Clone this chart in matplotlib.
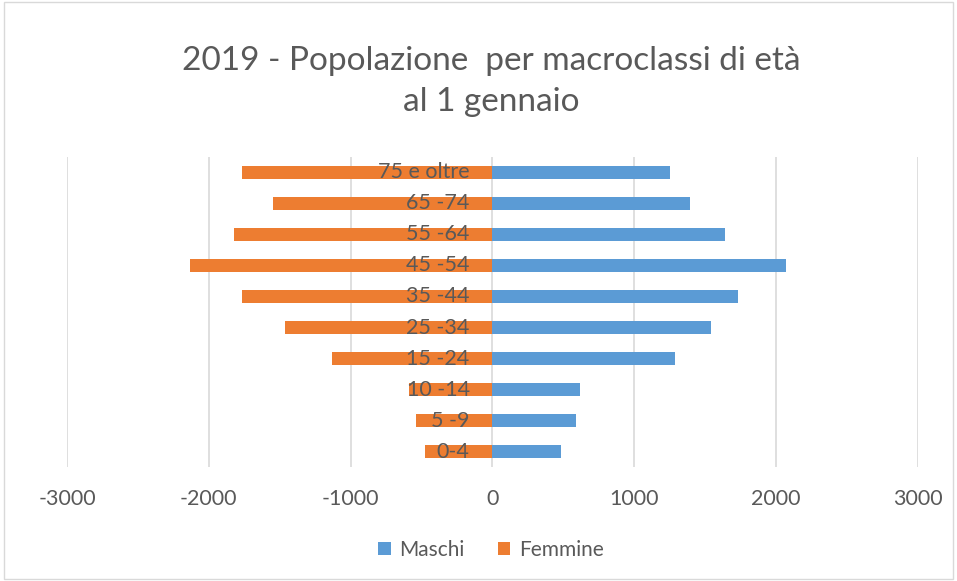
import matplotlib.pyplot as plt
from matplotlib.patches import Rectangle
import numpy as np

# dati
classi = ["0-4", "5 -9", "10 -14", "15 -24", "25 -34", "35 -44",
          "45 -54", "55 -64", "65 -74", "75 e oltre"]
maschi = [484, 593, 618, 1289, 1543, 1733, 2068, 1642, 1397, 1253]
femmine = [-473, -536, -591, -1132, -1459, -1767, -2136, -1821, -1550, -1767]
ticks_x = [-3000, -2000, -1000, 0, 1000, 2000, 3000]

plt.rcParams['font.family'] = ['Lato', 'DejaVu Sans']
grigio = '#595959'
blu = '#5B9BD5'
arancio = '#ED7D31'

fig = plt.figure(figsize=(9.57, 5.81), dpi=100)
fig.patches.append(Rectangle((0.004, 0.004), 0.992, 0.992, transform=fig.transFigure,
                             fill=False, edgecolor='#d9d9d9', linewidth=1))
ax = fig.add_axes([0.070, 0.196, 0.889, 0.534])

y = np.arange(len(classi))
ax.barh(y, maschi, height=0.42, color=blu, label='Maschi', zorder=2)
ax.barh(y, femmine, height=0.42, color=arancio, label='Femmine', zorder=2)

ax.set_xlim(-3000, 3000)
ax.set_ylim(-0.5, len(classi) - 0.5)
ax.set_xticks(ticks_x)
ax.set_xticklabels([str(t) for t in ticks_x])
ax.set_yticks([])
for s in ax.spines.values():
    s.set_visible(False)
ax.grid(axis='x', color='#d9d9d9', linewidth=1.2, zorder=0)
ax.tick_params(axis='x', length=0, pad=16, labelsize=15.5, labelcolor=grigio)

for yi, lab in zip(y, classi):
    ax.text(-160, yi, lab, ha='right', va='center', fontsize=15.5, color=grigio, zorder=3)

fig.text(0.513, 0.895, "2019 - Popolazione  per macroclassi di età", ha='center',
         va='center', fontsize=24, color=grigio)
fig.text(0.513, 0.825, "al 1 gennaio", ha='center', va='center', fontsize=24, color=grigio)

fig.legend(loc='center', bbox_to_anchor=(0.513, 0.053), ncol=2, frameon=False,
           fontsize=15, labelcolor=grigio, handlelength=0.6, handleheight=0.6,
           handletextpad=0.4, columnspacing=1.6)

fig.savefig('out.png', dpi=100)
